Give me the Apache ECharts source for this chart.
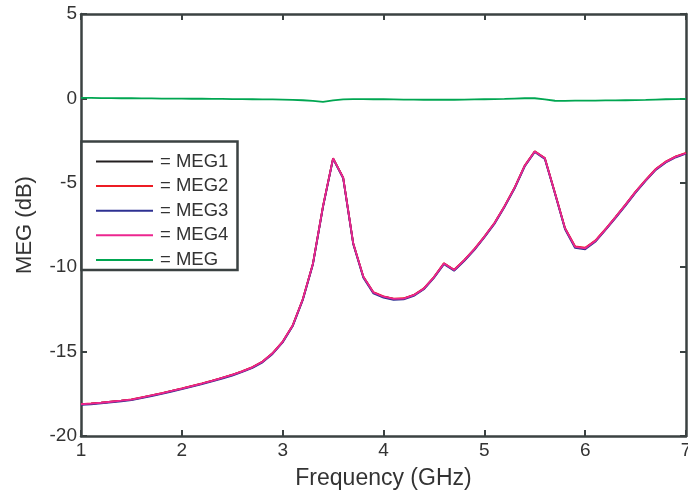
<!DOCTYPE html>
<html>
<head>
<meta charset="utf-8">
<script src="https://cdn.jsdelivr.net/npm/echarts@6/dist/echarts.min.js"></script>
<style>
  html, body { margin: 0; padding: 0; background: #fff; }
  #chart { width: 688px; height: 491px; }
</style>
</head>
<body>
<div id="chart"></div>
<script>
// frequency sweep, GHz
const freq = [1.0,1.1,1.2,1.3,1.4,1.5,1.6,1.7,1.8,1.9,2.0,2.1,2.2,2.3,2.4,2.5,2.6,2.7,2.8,2.9,
              3.0,3.1,3.2,3.3,3.4,3.5,3.6,3.7,3.8,3.9,4.0,4.1,4.2,4.3,4.4,4.5,4.6,4.7,4.8,4.9,
              5.0,5.1,5.2,5.3,5.4,5.5,5.6,5.7,5.8,5.9,6.0,6.1,6.2,6.3,6.4,6.5,6.6,6.7,6.8,6.9,7.0];

// per-port MEG (dB)
const meg1 = [-18.12,-18.08,-18.03,-17.97,-17.91,-17.84,-17.72,-17.60,-17.47,-17.33,-17.19,-17.04,-16.89,-16.73,-16.56,-16.38,-16.17,-15.93,-15.60,-15.10,
              -14.42,-13.45,-11.90,-9.80,-6.40,-3.55,-4.70,-8.60,-10.57,-11.50,-11.75,-11.88,-11.86,-11.66,-11.27,-10.60,-9.78,-10.17,-9.60,-8.95,
              -8.20,-7.40,-6.40,-5.30,-4.00,-3.15,-3.55,-5.60,-7.70,-8.80,-8.88,-8.45,-7.77,-7.05,-6.31,-5.54,-4.85,-4.20,-3.76,-3.45,-3.25];
const meg2 = [-18.11,-18.07,-18.02,-17.96,-17.90,-17.83,-17.71,-17.59,-17.46,-17.32,-17.18,-17.03,-16.88,-16.72,-16.55,-16.37,-16.16,-15.92,-15.59,-15.09,
              -14.41,-13.44,-11.89,-9.79,-6.39,-3.54,-4.69,-8.59,-10.56,-11.48,-11.73,-11.86,-11.84,-11.64,-11.25,-10.58,-9.76,-10.15,-9.58,-8.93,
              -8.18,-7.38,-6.38,-5.28,-3.98,-3.13,-3.53,-5.58,-7.68,-8.76,-8.84,-8.42,-7.75,-7.03,-6.29,-5.52,-4.83,-4.18,-3.74,-3.43,-3.23];
const meg3 = [-18.16,-18.12,-18.07,-18.01,-17.95,-17.88,-17.76,-17.64,-17.51,-17.37,-17.23,-17.08,-16.93,-16.77,-16.60,-16.42,-16.21,-15.97,-15.64,-15.14,
              -14.46,-13.49,-11.94,-9.84,-6.44,-3.58,-4.74,-8.64,-10.62,-11.56,-11.80,-11.93,-11.91,-11.70,-11.31,-10.64,-9.82,-10.21,-9.64,-8.99,
              -8.24,-7.44,-6.44,-5.34,-4.04,-3.18,-3.59,-5.64,-7.75,-8.86,-8.94,-8.50,-7.81,-7.09,-6.35,-5.58,-4.89,-4.24,-3.80,-3.49,-3.28];
const meg4 = [-18.12,-18.08,-18.03,-17.97,-17.91,-17.84,-17.72,-17.60,-17.47,-17.33,-17.19,-17.04,-16.89,-16.73,-16.56,-16.38,-16.17,-15.93,-15.60,-15.10,
              -14.42,-13.45,-11.90,-9.80,-6.40,-3.55,-4.70,-8.60,-10.57,-11.50,-11.75,-11.88,-11.86,-11.66,-11.27,-10.60,-9.78,-10.17,-9.60,-8.95,
              -8.20,-7.40,-6.40,-5.30,-4.00,-3.15,-3.55,-5.60,-7.70,-8.80,-8.88,-8.45,-7.77,-7.05,-6.31,-5.54,-4.85,-4.20,-3.76,-3.45,-3.25];
// overall MEG (dB)
const meg = [0.03,0.03,0.02,0.02,0.01,0.01,0.00,0.00,-0.01,-0.01,-0.01,-0.02,-0.02,-0.03,-0.03,-0.04,-0.04,-0.05,-0.06,-0.06,
             -0.07,-0.09,-0.11,-0.15,-0.20,-0.12,-0.06,-0.04,-0.04,-0.05,-0.05,-0.06,-0.07,-0.07,-0.08,-0.08,-0.08,-0.08,-0.07,-0.06,
             -0.05,-0.04,-0.03,-0.01,0.01,0.01,-0.06,-0.14,-0.15,-0.13,-0.13,-0.13,-0.12,-0.12,-0.11,-0.10,-0.09,-0.07,-0.05,-0.04,-0.03];

const names = ['MEG1', 'MEG2', 'MEG3', 'MEG4', 'MEG'];
const values = [meg1, meg2, meg3, meg4, meg];
const colors = ['#231f20', '#ed1c24', '#2e3192', '#ec268f', '#00a651'];

const axisColor = '#3b4242';
const font = 'Liberation Sans, Arial, sans-serif';

function pairs(ys) {
    return freq.map((f, i) => [f, ys[i]]);
}

const boxAxis = {
    axisLine: { show: true, onZero: false, lineStyle: { color: axisColor, width: 2.5 } },
    axisTick: { show: true, inside: true, length: 6, lineStyle: { color: axisColor, width: 2 } },
    splitLine: { show: false }
};

const option = {
    animation: false,
    color: colors,
    grid: { left: 81, right: 2, top: 14, bottom: 55, outerBoundsMode: 'none', containLabel: false },
    graphic: [{
        type: 'rect',
        z: 3,
        shape: { x: 81.5, y: 141.5, width: 156, height: 128.5 },
        style: { fill: '#fff', stroke: axisColor, lineWidth: 2.5 }
    }],
    legend: {
        data: names,
        orient: 'vertical',
        left: 91,
        top: 146.5,
        itemWidth: 57,
        itemHeight: 2,
        itemGap: 4.6,
        icon: 'rect',
        formatter: n => '= ' + n,
        textStyle: { fontFamily: font, fontSize: 18.5, color: '#333', lineHeight: 20, padding: [0, 0, 0, 2] }
    },
    xAxis: [
        Object.assign({
            type: 'value', min: 1, max: 7, interval: 1, position: 'bottom',
            name: 'Frequency (GHz)', nameLocation: 'middle', nameGap: 31,
            nameTextStyle: { fontFamily: font, fontSize: 23, color: '#333' },
            axisLabel: { fontFamily: font, fontSize: 19, color: '#333', margin: 5 }
        }, boxAxis),
        Object.assign({
            type: 'value', min: 1, max: 7, interval: 1, position: 'top',
            axisLabel: { show: false }
        }, boxAxis)
    ],
    yAxis: [
        Object.assign({
            type: 'value', min: -20, max: 5, interval: 5, position: 'left',
            name: 'MEG (dB)', nameLocation: 'middle', nameGap: 45,
            nameTextStyle: { fontFamily: font, fontSize: 22, color: '#333' },
            axisLabel: { fontFamily: font, fontSize: 19, color: '#333', margin: 4, padding: [4, 0, 0, 0] }
        }, boxAxis),
        Object.assign({
            type: 'value', min: -20, max: 5, interval: 5, position: 'right',
            axisLabel: { show: false }
        }, boxAxis)
    ],
    series: names.map((n, i) => ({
        name: n,
        type: 'line',
        data: pairs(values[i]),
        showSymbol: false,
        symbol: 'none',
        lineStyle: { width: 1.8, color: colors[i] },
        z: 2 + i
    }))
};

const chart = echarts.init(document.getElementById('chart'));
chart.setOption(option);
</script>
</body>
</html>
